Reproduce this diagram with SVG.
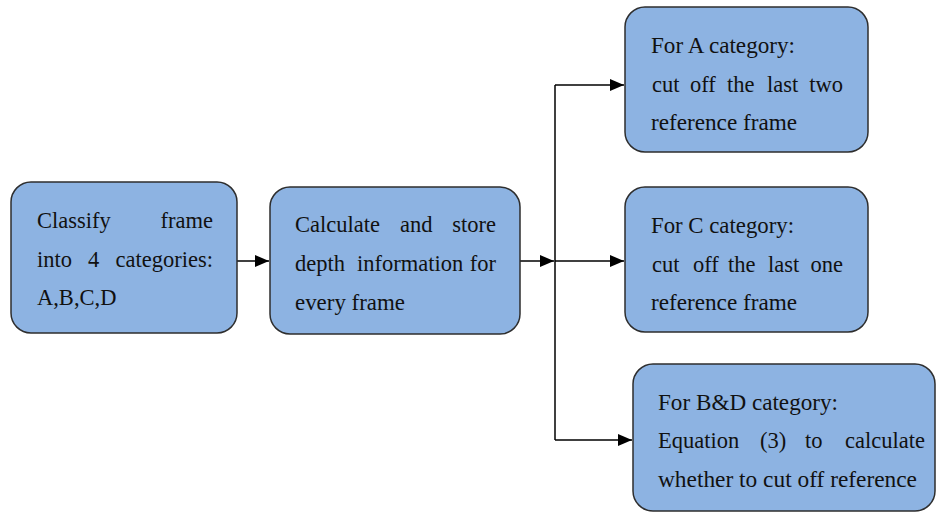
<svg xmlns="http://www.w3.org/2000/svg" width="937" height="513" viewBox="0 0 937 513">
<style>
.box{fill:#8db3e2;stroke:#2e2e2e;stroke-width:1.5}
.t{font-family:"Liberation Serif","Times New Roman",serif;font-size:22.5px;fill:#111}
.e{text-anchor:end}
.c{fill:none;stroke:#000;stroke-width:1.5}
</style>
<defs>
<marker id="ah" markerUnits="userSpaceOnUse" markerWidth="15" markerHeight="13" refX="14" refY="6" orient="auto">
<path d="M0,0 L14,6 L0,12 z" fill="#000"/>
</marker>
</defs>
<rect width="937" height="513" fill="#fff"/>
<g id="connectors">
<line class="c" x1="237" y1="261" x2="269" y2="261" marker-end="url(#ah)"/>
<line class="c" x1="520" y1="261" x2="554" y2="261" marker-end="url(#ah)"/>
<polyline class="c" points="555,440 555,85"/>
<line class="c" x1="555" y1="85" x2="624" y2="85" marker-end="url(#ah)"/>
<line class="c" x1="555" y1="261" x2="624" y2="261" marker-end="url(#ah)"/>
<line class="c" x1="555" y1="440" x2="632" y2="440" marker-end="url(#ah)"/>
</g>
<g id="classify">
<rect class="box" x="11" y="182" width="226" height="151" rx="20"/>
<text class="t" y="228"><tspan x="37">Classify</tspan><tspan class="e" x="213">frame</tspan></text>
<text class="t" y="267"><tspan x="37">into</tspan><tspan x="88">4</tspan><tspan class="e" x="213">categories:</tspan></text>
<text class="t" x="37" y="305">A,B,C,D</text>
</g>
<g id="calculate">
<rect class="box" x="270" y="187" width="250" height="147" rx="20"/>
<text class="t" y="232"><tspan x="295">Calculate</tspan><tspan x="400">and</tspan><tspan class="e" x="496">store</tspan></text>
<text class="t" y="271"><tspan x="295">depth</tspan><tspan x="357">information</tspan><tspan class="e" x="496">for</tspan></text>
<text class="t" x="295" y="310" textLength="110" lengthAdjust="spacingAndGlyphs">every frame</text>
</g>
<g id="catA">
<rect class="box" x="625" y="7" width="243" height="145" rx="20"/>
<text class="t" x="651" y="53" textLength="144" lengthAdjust="spacingAndGlyphs">For A category:</text>
<text class="t" y="92"><tspan x="652">cut</tspan><tspan x="690">off</tspan><tspan x="727">the</tspan><tspan x="767">last</tspan><tspan class="e" x="843">two</tspan></text>
<text class="t" x="651" y="130" textLength="146" lengthAdjust="spacingAndGlyphs">reference frame</text>
</g>
<g id="catC">
<rect class="box" x="625" y="187" width="243" height="145" rx="20"/>
<text class="t" x="651" y="233" textLength="143" lengthAdjust="spacingAndGlyphs">For C category:</text>
<text class="t" y="272"><tspan x="652">cut</tspan><tspan x="693">off</tspan><tspan x="728">the</tspan><tspan x="768">last</tspan><tspan class="e" x="843">one</tspan></text>
<text class="t" x="651" y="310" textLength="146" lengthAdjust="spacingAndGlyphs">reference frame</text>
</g>
<g id="catBD">
<rect class="box" x="633" y="364" width="302" height="147" rx="20"/>
<text class="t" x="658" y="410" textLength="180" lengthAdjust="spacingAndGlyphs">For B&amp;D category:</text>
<text class="t" y="448"><tspan x="658">Equation</tspan><tspan x="760">(3)</tspan><tspan x="805">to</tspan><tspan class="e" x="925">calculate</tspan></text>
<text class="t" x="658" y="487" textLength="259" lengthAdjust="spacingAndGlyphs">whether to cut off reference</text>
</g>
</svg>
